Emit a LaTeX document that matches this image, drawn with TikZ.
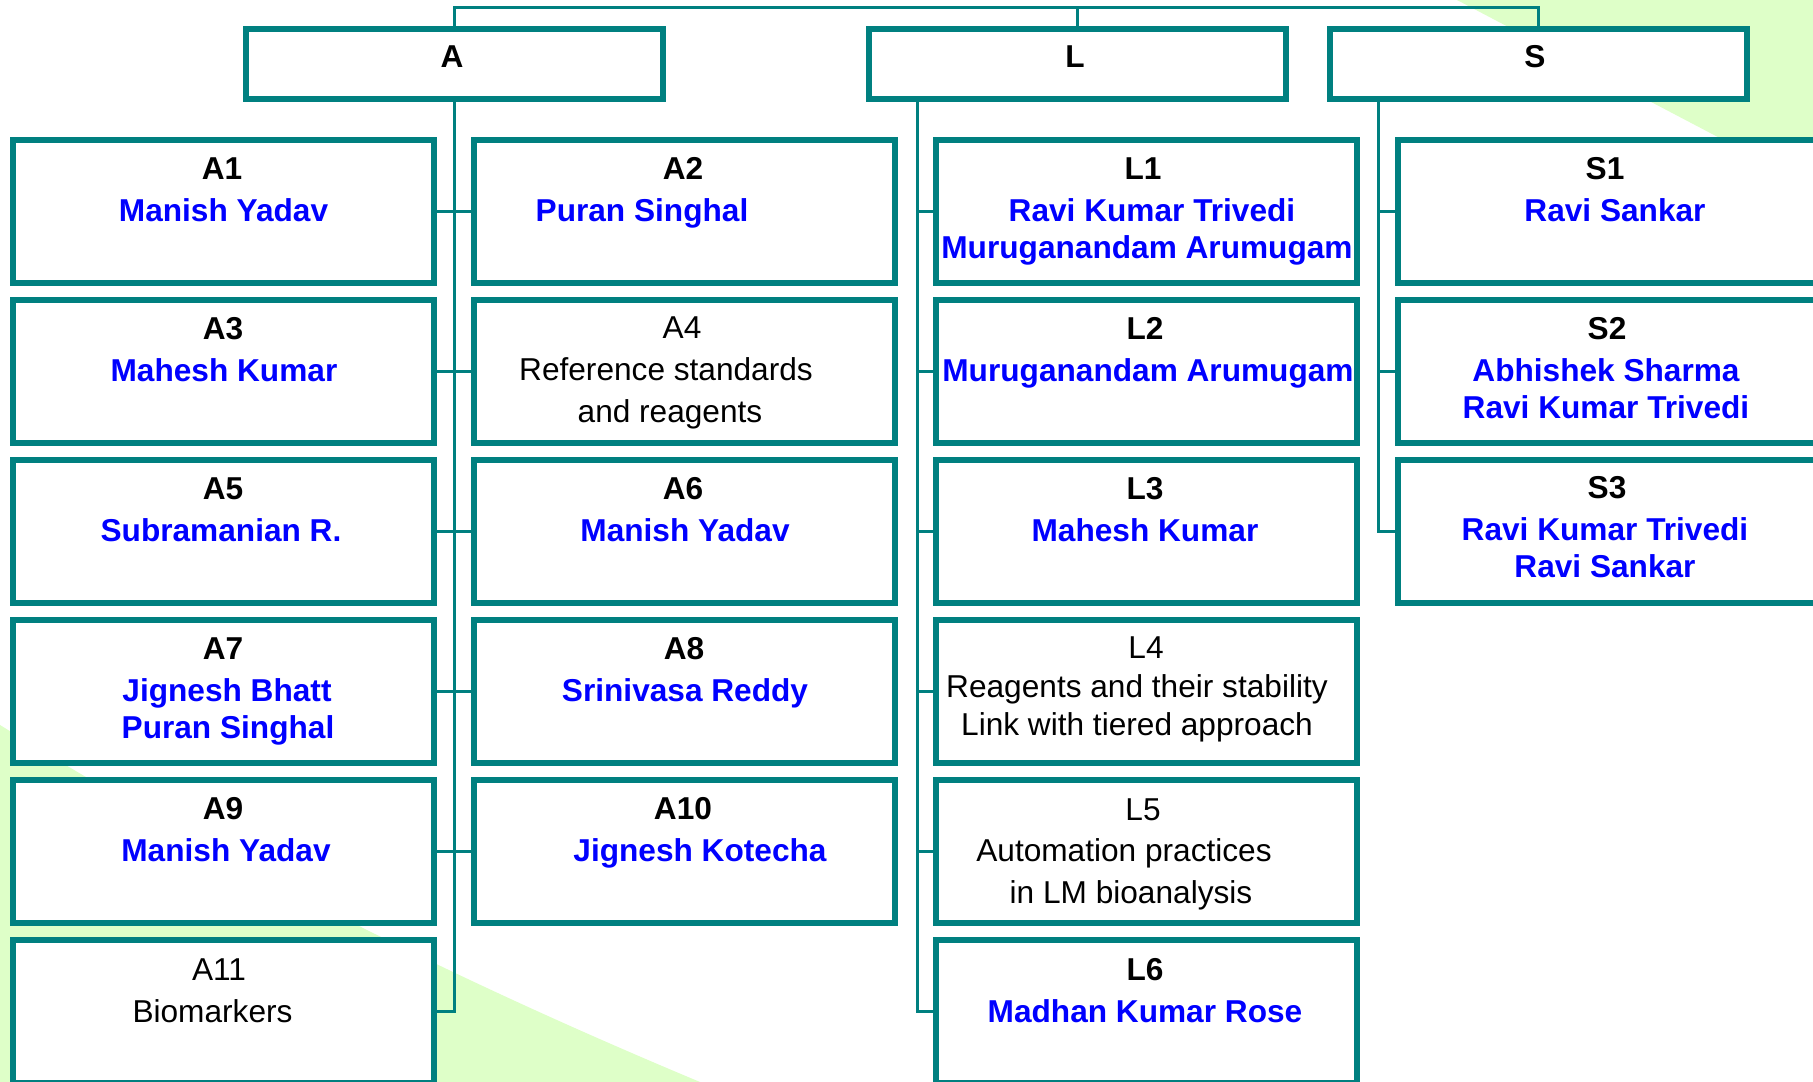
\documentclass[tikz,border=0pt]{standalone}
\usepackage{fontspec}
\setmainfont{Liberation Sans}
\usepackage{tikz}
\definecolor{orgteal}{HTML}{008080}
\definecolor{nameblue}{HTML}{0000FF}
\definecolor{slidegreen}{HTML}{DEFFC8}
\tikzset{cellbox/.style={draw=orgteal,line width=0.6mm,fill=white,inner sep=0pt,
		minimum width=42.1mm,minimum height=14.3mm},
	topbox/.style={cellbox,minimum width=41.7mm,minimum height=7mm},
	code/.style={anchor=base,inner sep=0pt,font=\fontsize{9}{11}\selectfont\bfseries},
	topic/.style={anchor=base,inner sep=0pt,font=\fontsize{9}{11}\selectfont},
	person/.style={code,text=nameblue},
	wire/.style={draw=orgteal,line width=0.3mm}}

\begin{document}
\begin{tikzpicture}[x=0.1mm,y=-0.1mm]
			\useasboundingbox (0,0) rectangle (1813,1082);
			\fill[white] (0,0) rectangle (1813,1082);
			% slide background
			\fill[slidegreen] (1457,0) -- (1813,0) -- (1813,187) -- cycle;
			\fill[slidegreen] (0,725) .. controls (250,880) and (480,990) .. (700,1082) -- (0,1082) -- cycle;

			% heads
			\node[topbox] (A) at (454.5,64) {};
			\node[topbox] (L) at (1077,64) {};
			\node[topbox] (S) at (1538.5,64) {};

			% A groups
			\node[cellbox] (A1) at (223.5,211.5) {};
			\node[cellbox] (A3) at (223.5,371.5) {};
			\node[cellbox] (A5) at (223.5,531.5) {};
			\node[cellbox] (A7) at (223.5,691.5) {};
			\node[cellbox] (A9) at (223.5,851.5) {};
			\node[cellbox] (A11) at (223.5,1011.5) {};
			\node[cellbox] (A2) at (684,211.5) {};
			\node[cellbox] (A4) at (684,371.5) {};
			\node[cellbox] (A6) at (684,531.5) {};
			\node[cellbox] (A8) at (684,691.5) {};
			\node[cellbox] (A10) at (684,851.5) {};

			% L groups
			\node[cellbox] (L1) at (1146.5,211.5) {};
			\node[cellbox] (L2) at (1146.5,371.5) {};
			\node[cellbox] (L3) at (1146.5,531.5) {};
			\node[cellbox] (L4) at (1146.5,691.5) {};
			\node[cellbox] (L5) at (1146.5,851.5) {};
			\node[cellbox] (L6) at (1146.5,1011.5) {};

			% S groups
			\node[cellbox] (S1) at (1608.5,211.5) {};
			\node[cellbox] (S2) at (1608.5,371.5) {};
			\node[cellbox] (S3) at (1608.5,531.5) {};

			% texts
			\node[code] (At) at (452,68) {A};
			\node[code] (Lt) at (1075,68) {L};
			\node[code] (St) at (1535,68) {S};

			\node[code] (A1t) at (222,180) {A1};
			\node[person] (A1n) at (223.5,222) {Manish Yadav};
			\node[code] (A3t) at (223,340) {A3};
			\node[person] (A3n) at (224,382) {Mahesh Kumar};
			\node[code] (A5t) at (223,500) {A5};
			\node[person] (A5n) at (221,542) {Subramanian R.};
			\node[code] (A7t) at (223,660) {A7};
			\node[person] (A7n) at (227,702) {Jignesh Bhatt};
			\node[person] (A7m) at (228,739) {Puran Singhal};
			\node[code] (A9t) at (223,820) {A9};
			\node[person] (A9n) at (226,862) {Manish Yadav};
			\node[topic] (A11t) at (219,980) {A11};
			\node[topic] (A11n) at (212.5,1022) {Biomarkers};

			\node[code] (A2t) at (683,180) {A2};
			\node[person] (A2n) at (642,222) {Puran Singhal};
			\node[topic] (A4t) at (682,339) {A4};
			\node[topic] (A4n) at (666,381) {Reference standards};
			\node[topic] (A4m) at (670,423) {and reagents};
			\node[code] (A6t) at (683,500) {A6};
			\node[person] (A6n) at (685,542) {Manish Yadav};
			\node[code] (A8t) at (684,660) {A8};
			\node[person] (A8n) at (685,702) {Srinivasa Reddy};
			\node[code] (A10t) at (683,820) {A10};
			\node[person] (A10n) at (700,862) {Jignesh Kotecha};

			\node[code] (L1t) at (1143,180) {L1};
			\node[person] (L1n) at (1152,222) {Ravi Kumar Trivedi};
			\node[person] (L1m) at (1147,259) {Muruganandam Arumugam};
			\node[code] (L2t) at (1145,340) {L2};
			\node[person] (L2n) at (1148,382) {Muruganandam Arumugam};
			\node[code] (L3t) at (1145,500) {L3};
			\node[person] (L3n) at (1145,542) {Mahesh Kumar};
			\node[topic] (L4t) at (1146,659) {L4};
			\node[topic] (L4n) at (1137,698) {Reagents and their stability};
			\node[topic] (L4m) at (1137,736) {Link with tiered approach};
			\node[topic] (L5t) at (1143,821) {L5};
			\node[topic] (L5n) at (1124,862) {Automation practices};
			\node[topic] (L5m) at (1131,903) {in LM bioanalysis};
			\node[code] (L6t) at (1145,981) {L6};
			\node[person] (L6n) at (1145,1022) {Madhan Kumar Rose};

			\node[code] (S1t) at (1605,180) {S1};
			\node[person] (S1n) at (1615,222) {Ravi Sankar};
			\node[code] (S2t) at (1607,340) {S2};
			\node[person] (S2n) at (1606,382) {Abhishek Sharma};
			\node[person] (S2m) at (1606,419) {Ravi Kumar Trivedi};
			\node[code] (S3t) at (1607,499) {S3};
			\node[person] (S3n) at (1605,541) {Ravi Kumar Trivedi};
			\node[person] (S3m) at (1605,578) {Ravi Sankar};

			% connectors
			\coordinate (bar) at (1000,8);
			\coordinate (Lbus) at (917,0);
			\coordinate (Sbus) at (1378,0);
			\draw[wire] (A.north) |- (bar) -| (S.north);
			\draw[wire] (L.north) -- (L.north |- bar);

			\draw[wire] (A.south) -- (A.south |- A11.east) -- (A11.east);
			\path [wire](A1.east) edge (A2.west);
			\path [wire](A3.east) edge (A4.west);
			\path [wire](A5.east) edge (A6.west);
			\path [wire](A7.east) edge (A8.west);
			\path [wire](A9.east) edge (A10.west);

			\draw[wire] (L.south -| Lbus) -- (Lbus |- L6.west) -- (L6.west);
			\path [wire](Lbus |- L1.west) edge (L1.west);
			\path [wire](Lbus |- L2.west) edge (L2.west);
			\path [wire](Lbus |- L3.west) edge (L3.west);
			\path [wire](Lbus |- L4.west) edge (L4.west);
			\path [wire](Lbus |- L5.west) edge (L5.west);

			\draw[wire] (S.south -| Sbus) -- (Sbus |- S3.west) -- (S3.west);
			\path [wire](Sbus |- S1.west) edge (S1.west);
			\path [wire](Sbus |- S2.west) edge (S2.west);
		\end{tikzpicture}
\end{document}
